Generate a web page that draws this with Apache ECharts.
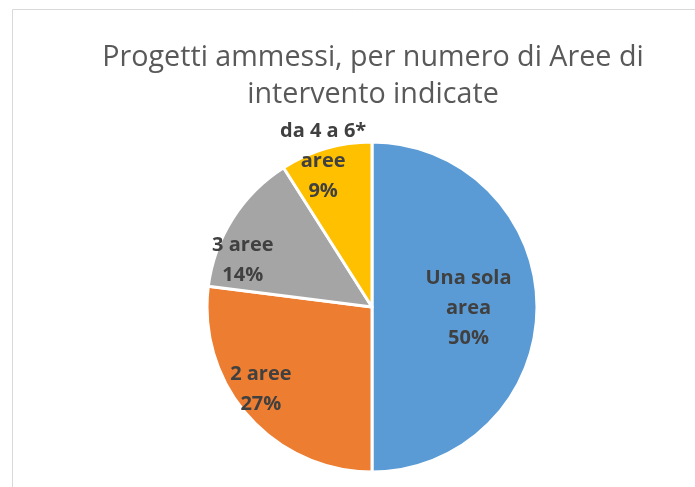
<!DOCTYPE html>
<html>
<head>
<meta charset="utf-8">
<script src="https://cdn.jsdelivr.net/npm/echarts@6/dist/echarts.min.js"></script>
<style>
    html, body {margin: 0; padding: 0; background: #fff;}
    #chartBg {width: 695px; height: 487px;}
</style>
</head>
<body>
<div id="chartBg"></div>
<script>
var titleText = 'Progetti ammessi, per numero di Aree di\nintervento indicate';
var categories = ['Una sola\narea', '2 aree', '3 aree', 'da 4 a 6*\naree'];
var percents = [50, 27, 14, 9];
var colors = ['#5B9BD5', '#ED7D31', '#A5A5A5', '#FFC000'];
// label nudges from the default inside position
var labelOffsets = [[11, 1], [-47, 26], [-57, -1], [-25, -64]];

function showPie() {
    var dom = document.getElementById('chartBg');
    var myChart = echarts.init(dom);
    option = null;

    var seriesData = [];
    for (var i = 0; i < categories.length; i++) {
        seriesData.push({
            name: categories[i],
            value: percents[i],
            itemStyle: {color: colors[i]},
            label: {offset: labelOffsets[i]}
        });
    }

    option = {
        animation: false,
        title: {
            text: titleText,
            left: 368,
            textAlign: 'center',
            top: 34,
            textStyle: {
                fontFamily: 'Open Sans',
                fontWeight: 'normal',
                fontSize: 28.7,
                lineHeight: 37,
                color: '#595959'
            }
        },
        graphic: [{
            type: 'rect',
            shape: {x: 12.5, y: 9.5, width: 720, height: 520},
            style: {fill: 'none', stroke: '#d9d9d9', lineWidth: 1}
        }],
        series: [{
            type: 'pie',
            center: [372, 307],
            radius: [0, 165],
            startAngle: 90,
            clockwise: true,
            itemStyle: {borderColor: '#fff', borderWidth: 3},
            label: {
                show: true,
                position: 'inside',
                formatter: '{b}\n{d}%',
                fontFamily: 'Open Sans',
                fontWeight: 'bold',
                fontSize: 20,
                lineHeight: 30,
                color: '#404040'
            },
            labelLine: {show: false},
            emphasis: {disabled: true},
            data: seriesData
        }]
    };

    if (option && typeof option === "object") {
        myChart.setOption(option, true);
    }
}

showPie();
</script>
</body>
</html>
